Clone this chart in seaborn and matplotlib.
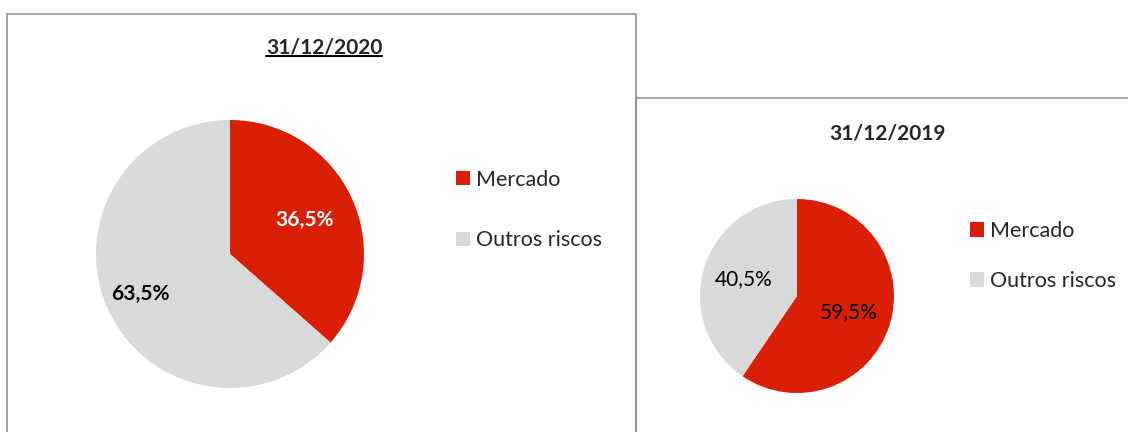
import numpy as np
import matplotlib.pyplot as plt
import seaborn as sns
from matplotlib.patches import Rectangle
from matplotlib.lines import Line2D

#### Dados

categorias = ['Mercado', 'Outros riscos']
valores_2020 = [36.5, 63.5]
valores_2019 = [59.5, 40.5]
titulo_2020 = '31/12/2020'
titulo_2019 = '31/12/2019'

#### Estilo

sns.set_theme(style='white')
plt.rcParams['font.family'] = ['Lato', 'DejaVu Sans']
cores = sns.color_palette(['#D91F05', '#D9D9D9'])
cor_borda = '#8C8C8C'

W, H = 1128, 432
fig = plt.figure(figsize=(W / 100, H / 100), dpi=100)


def eixo_px(cx, cy, r):
    return fig.add_axes([(cx - r) / W, (H - cy - r) / H, 2 * r / W, 2 * r / H])


def fmt(v):
    return f'{v:.1f}%'.replace('.', ',')


def pizza(ax, valores, dist, cores_txt, peso):
    wedges, _ = ax.pie(valores, colors=cores, startangle=90, counterclock=False,
                       wedgeprops=dict(linewidth=0))
    for w, v, d, c in zip(wedges, valores, dist, cores_txt):
        ang = np.deg2rad((w.theta1 + w.theta2) / 2)
        ax.text(d * np.cos(ang), d * np.sin(ang), fmt(v), ha='center', va='center',
                color=c, fontweight=peso, fontsize=15)
    ax.set_xlim(-1, 1)
    ax.set_ylim(-1, 1)
    ax.axis('off')
    return wedges


def legenda(ax, wedges, x, y, esp):
    ax.legend(wedges, categorias, loc='center left', bbox_to_anchor=(x / W, 1 - y / H),
              bbox_transform=fig.transFigure, frameon=False, fontsize=15.5,
              handlelength=0.65, handleheight=0.65, handletextpad=0.3,
              labelspacing=esp, borderpad=0, borderaxespad=0)


#### Molduras

fig.patches.append(Rectangle((7 / W, -0.1), (636 - 7) / W, (H - 14) / H + 0.1,
                             transform=fig.transFigure, fill=False,
                             edgecolor=cor_borda, linewidth=1.1))
fig.patches.append(Rectangle((636 / W, -0.1), (W - 636 + 20) / W, (H - 98) / H + 0.1,
                             transform=fig.transFigure, fill=False,
                             edgecolor=cor_borda, linewidth=1.1))

#### 31/12/2020

ax1 = eixo_px(230, 254, 134)
w1 = pizza(ax1, valores_2020, [0.61, 0.73], ['white', 'black'], 'bold')
legenda(ax1, w1, 456, 210, 1.9)
t1 = fig.text(324 / W, 1 - 48 / H, titulo_2020, ha='center', va='center',
              fontsize=15, fontweight='bold')

#### 31/12/2019

ax2 = eixo_px(797, 296, 97)
w2 = pizza(ax2, valores_2019, [0.56, 0.58], ['black', 'black'], 'normal')
legenda(ax2, w2, 970, 256, 1.4)
fig.text(887 / W, 1 - 133 / H, titulo_2019, ha='center', va='center',
         fontsize=15, fontweight='bold')

# sublinhado do titulo
fig.canvas.draw()
bb = t1.get_window_extent()
y_sub = (bb.y0 + 2) / H
fig.add_artist(Line2D([bb.x0 / W, bb.x1 / W], [y_sub, y_sub], transform=fig.transFigure,
                      color='black', linewidth=1.5))

fig.savefig('out.png', dpi=100)
